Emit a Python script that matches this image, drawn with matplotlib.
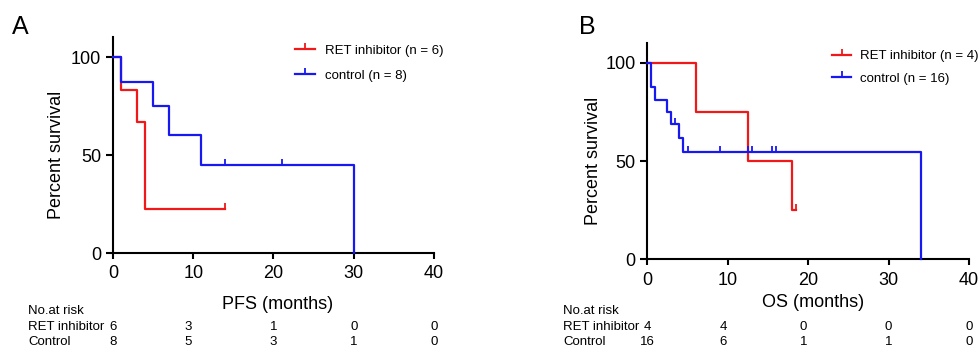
import numpy as np
import matplotlib
matplotlib.use('Agg')
import matplotlib.pyplot as plt
from matplotlib import transforms
from matplotlib.lines import Line2D

plt.rcParams['font.family'] = ['Liberation Sans', 'DejaVu Sans']

RED = '#f01818'
BLUE = '#1818f0'

# panel A: PFS
pfs_ret_t = [0, 1, 3, 4, 14]
pfs_ret_s = [100, 83.3, 66.7, 22.2, 22.2]
pfs_ret_cens_t = [14]
pfs_ret_cens_s = [22.2]
pfs_ctl_t = [0, 1, 5, 7, 11, 30]
pfs_ctl_s = [100, 87.5, 75, 60, 45, 0]
pfs_ctl_cens_t = [14, 21]
pfs_ctl_cens_s = [45, 45]

# panel B: OS
os_ret_t = [0, 6, 12.5, 18, 18.5]
os_ret_s = [100, 75, 50, 25, 25]
os_ret_cens_t = [18.5]
os_ret_cens_s = [25]
os_ctl_t = [0, 0.5, 1, 2.5, 3, 4, 4.5, 34]
os_ctl_s = [100, 87.5, 81.25, 75, 68.75, 61.9, 54.5, 0]
os_ctl_cens_t = [3.5, 5, 9, 12.5, 13, 15.5, 16]
os_ctl_cens_s = [68.75, 54.5, 54.5, 54.5, 54.5, 54.5, 54.5]

# number at risk
risk_cols_A = [0, 9.4, 20, 30, 40]
risk_ret_A = ['6', '3', '1', '0', '0']
risk_ctl_A = ['8', '5', '3', '1', '0']
risk_cols_B = [0, 9.4, 19.4, 30, 40]
risk_ret_B = ['4', '4', '0', '0', '0']
risk_ctl_B = ['16', '6', '1', '1', '0']

W, H = 979, 348
fig = plt.figure(figsize=(W / 100, H / 100), dpi=100)
axA = fig.add_axes([113 / W, 95 / H, 321 / W, 215.6 / H])
axB = fig.add_axes([647.3 / W, 88.7 / H, 321.7 / W, 216 / H])


def km(ax, t, s, ct, cs, color):
    ax.step(t, s, where='post', color=color, lw=1.6, clip_on=False, zorder=3)
    ax.plot(ct, cs, ls='none', marker=2, ms=4.5, mew=1.3, color=color,
            clip_on=False, zorder=3)


def style(ax):
    ax.set_xlim(0, 40)
    ax.set_ylim(0, 110)
    ax.set_xticks([0, 10, 20, 30, 40])
    ax.set_yticks([0, 50, 100])
    for sp in ['top', 'right']:
        ax.spines[sp].set_visible(False)
    for sp in ['left', 'bottom']:
        ax.spines[sp].set_linewidth(1.5)
        ax.spines[sp].set_color('black')
    ax.tick_params(axis='x', length=4, width=1.5, pad=5, labelsize=13)
    ax.tick_params(axis='y', length=5, width=1.5, pad=3.5, labelsize=13)


km(axA, pfs_ret_t, pfs_ret_s, pfs_ret_cens_t, pfs_ret_cens_s, RED)
km(axA, pfs_ctl_t, pfs_ctl_s, pfs_ctl_cens_t, pfs_ctl_cens_s, BLUE)
km(axB, os_ret_t, os_ret_s, os_ret_cens_t, os_ret_cens_s, RED)
km(axB, os_ctl_t, os_ctl_s, os_ctl_cens_t, os_ctl_cens_s, BLUE)
style(axA)
style(axB)

axA.set_ylabel('Percent survival', fontsize=13, va='center')
axA.yaxis.set_label_coords(-0.1745, 0.4545)
axA.set_xlabel('PFS (months)', fontsize=13, va='center')
axA.xaxis.set_label_coords(0.512, -0.241)
axB.set_ylabel('Percent survival', fontsize=13, va='center')
axB.yaxis.set_label_coords(-0.168, 0.456)
axB.set_xlabel('OS (months)', fontsize=13, va='center')
axB.xaxis.set_label_coords(0.516, -0.202)


def handles(n1, n2):
    h = [Line2D([], [], color=RED, lw=1.6, marker=2, ms=4.5, mew=1.3),
         Line2D([], [], color=BLUE, lw=1.6, marker=2, ms=4.5, mew=1.3)]
    return h, ['RET inhibitor (n = %d)' % n1, 'control (n = %d)' % n2]


h, l = handles(6, 8)
axA.legend(h, l, loc='upper left', bbox_to_anchor=(0.567, 0.966), frameon=False,
           fontsize=9.5, handlelength=1.5, handletextpad=0.75, borderpad=0,
           borderaxespad=0, labelspacing=0.95, numpoints=1)
h, l = handles(4, 16)
axB.legend(h, l, loc='upper left', bbox_to_anchor=(0.573, 0.969), frameon=False,
           fontsize=9.5, handlelength=1.5, handletextpad=0.65, borderpad=0,
           borderaxespad=0, labelspacing=0.8, numpoints=1)

# risk tables
rows_y = [1 - 311 / H, 1 - 327 / H, 1 - 342 / H]
for ax, x0, cols, r1, r2 in [(axA, 28.3, risk_cols_A, risk_ret_A, risk_ctl_A),
                             (axB, 563.3, risk_cols_B, risk_ret_B, risk_ctl_B)]:
    fig.text(x0 / W, rows_y[0], 'No.at risk', fontsize=9.5, va='center')
    fig.text(x0 / W, rows_y[1], 'RET inhibitor', fontsize=9.5, va='center')
    fig.text(x0 / W, rows_y[2], 'Control', fontsize=9.5, va='center')
    tr = transforms.blended_transform_factory(ax.transData, fig.transFigure)
    for c, a, b in zip(cols, r1, r2):
        fig.text(c, rows_y[1], a, transform=tr, fontsize=9.5, ha='center', va='center')
        fig.text(c, rows_y[2], b, transform=tr, fontsize=9.5, ha='center', va='center')

fig.text(20 / W, 1 - 27 / H, 'A', fontsize=18, ha='center', va='center')
fig.text(587 / W, 1 - 27 / H, 'B', fontsize=18, ha='center', va='center')

fig.savefig('out.png', dpi=100)
